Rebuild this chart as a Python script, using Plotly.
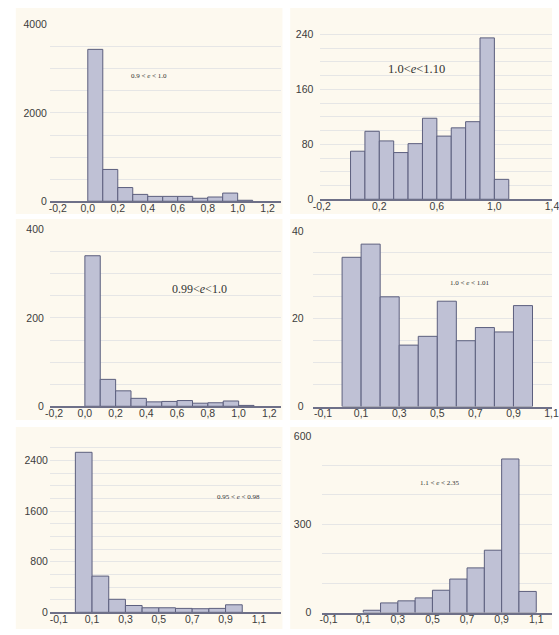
import plotly.graph_objects as go

W, H = 559, 635

# ---- histogram data (bin centres, counts) for six eccentricity ranges ----
p1_bins = [0.05, 0.15, 0.25, 0.35, 0.45, 0.55, 0.65, 0.75, 0.85, 0.95, 1.05]
p1_counts = [3440, 720, 310, 155, 110, 110, 110, 67, 96, 185, 22]

p2_bins = [0.05, 0.15, 0.25, 0.35, 0.45, 0.55, 0.65, 0.75, 0.85, 0.95, 1.05]
p2_counts = [70, 99, 85, 68, 81, 118, 92, 104, 113, 235, 29]

p3_bins = [0.05, 0.15, 0.25, 0.35, 0.45, 0.55, 0.65, 0.75, 0.85, 0.95, 1.05]
p3_counts = [341, 61, 35, 18, 10, 11, 13, 7, 8, 12, 2]

p4_bins = [0.05, 0.15, 0.25, 0.35, 0.45, 0.55, 0.65, 0.75, 0.85, 0.95]
p4_counts = [34, 37, 25, 14, 16, 24, 15, 18, 17, 23]

p5_bins = [0.05, 0.15, 0.25, 0.35, 0.45, 0.55, 0.65, 0.75, 0.85, 0.95]
p5_counts = [2530, 573, 206, 108, 72, 72, 62, 57, 62, 119]

p6_bins = [0.15, 0.25, 0.35, 0.45, 0.55, 0.65, 0.75, 0.85, 0.95, 1.05]
p6_counts = [8, 33, 40, 50, 76, 114, 152, 212, 522, 72]

bin_width = 0.1

# ---- axis ticks ----
x_ticks_a = [-0.2, 0.0, 0.2, 0.4, 0.6, 0.8, 1.0, 1.2]
x_text_a = ["-0,2", "0,0", "0,2", "0,4", "0,6", "0,8", "1,0", "1,2"]
x_ticks_b = [-0.2, 0.2, 0.6, 1.0, 1.4]
x_text_b = ["-0,2", "0,2", "0,6", "1,0", "1,4"]
x_ticks_c = [-0.1, 0.1, 0.3, 0.5, 0.7, 0.9, 1.1]
x_text_c = ["-0,1", "0,1", "0,3", "0,5", "0,7", "0,9", "1,1"]

y_ticks = [
    [0, 2000, 4000],
    [0, 80, 160, 240],
    [0, 200, 400],
    [0, 20, 40],
    [0, 800, 1600, 2400],
    [0, 300, 600],
]
y_grid_step = [500, 20, 50, 5, 200, 100]

labels = [
    "0.9 &lt; <i>e</i> &lt; 1.0",
    "1.0&lt;<i>e</i>&lt;1.10",
    "0.99&lt;<i>e</i>&lt;1.0",
    "1.0 &lt; <i>e</i> &lt; 1.01",
    "0.95 &lt; <i>e</i> &lt; 0.98",
    "1.1 &lt; <i>e</i> &lt; 2.35",
]

# ---- panel geometry in pixels ----
# plot left/right, plot top/bottom, x range, y range, y-label gap
panels = [
    dict(px=(43, 281), py=(19, 199), xr=(-0.2532, 1.2922), yr=(0, 4000), gap=2,
         xt=(x_ticks_a, x_text_a), data=(p1_bins, p1_counts)),
    dict(px=(321, 559), py=(15, 197), xr=(-0.2096, 1.4005), yr=(0, 260), gap=6,
         xt=(x_ticks_b, x_text_b), data=(p2_bins, p2_counts)),
    dict(px=(43, 281), py=(228, 408), xr=(-0.2278, 1.2785), yr=(0, 400), gap=5,
         xt=(x_ticks_a, x_text_a), data=(p3_bins, p3_counts)),
    dict(px=(313, 559), py=(229.3, 408.3), xr=(-0.1548, 1.1024), yr=(0, 40), gap=8,
         xt=(x_ticks_c, x_text_c), data=(p4_bins, p4_counts)),
    dict(px=(43, 281), py=(437.5, 618), xr=(-0.1529, 1.235), yr=(0, 2800), gap=1,
         xt=(x_ticks_c, x_text_c), data=(p5_bins, p5_counts)),
    dict(px=(323, 559), py=(438.3, 618.3), xr=(-0.1365, 1.191), yr=(0, 600), gap=10,
         xt=(x_ticks_c, x_text_c), data=(p6_bins, p6_counts)),
]
label_pos = [(145, 71, 7), (420, 64, 12.5), (197, 288, 12), (475, 282, 7),
             (237, 500, 7), (444, 486, 7)]
cream_boxes = [(8, 282, 2, 212), (290, 559, 2, 212), (8, 282, 217, 422),
               (290, 559, 217, 422), (8, 282, 429, 635), (290, 559, 429, 635)]

CREAM = "#FDF9EF"
BAR_FILL = "#BFC1D5"
BAR_LINE = "#5C5F7E"
GRID = "#E6E6E6"
TICK_FONT = dict(family="Liberation Sans, Arial, sans-serif", size=10.5, color="#3c3c3c")

fig = go.Figure()
layout = dict(
    width=W, height=H, autosize=False,
    margin=dict(l=0, r=0, t=0, b=0),
    paper_bgcolor="white", plot_bgcolor="white",
    showlegend=False, shapes=[], annotations=[],
)

for i, p in enumerate(panels):
    k = "" if i == 0 else str(i + 1)
    bins, counts = p["data"]
    fig.add_trace(go.Bar(
        x=bins, y=counts, width=bin_width,
        marker=dict(color=BAR_FILL, line=dict(color=BAR_LINE, width=1)),
        xaxis="x" + k, yaxis="y" + k, hoverinfo="skip",
    ))
    x0, x1 = p["px"]
    y0, y1 = p["py"]
    layout["xaxis" + k] = dict(
        domain=[x0 / W, x1 / W], range=list(p["xr"]), anchor="y" + k,
        tickvals=p["xt"][0], ticktext=p["xt"][1], tickfont=TICK_FONT,
        showgrid=False, zeroline=False, showline=True,
        linecolor="#6E7088", linewidth=1.5, ticks="", ticklabelstandoff=-4,
        ticklabeloverflow="allow", fixedrange=True,
    )
    layout["yaxis" + k] = dict(
        domain=[1 - y1 / H, 1 - y0 / H], range=list(p["yr"]), anchor="x" + k,
        tickvals=y_ticks[i], tickfont=TICK_FONT,
        showgrid=True, gridcolor=GRID, gridwidth=1,
        minor=dict(dtick=y_grid_step[i], showgrid=True, gridcolor=GRID, gridwidth=1),
        zeroline=False, showline=False, ticks="", fixedrange=True,
        ticklabelstandoff=p["gap"],
    )
    bx0, bx1, by0, by1 = cream_boxes[i]
    layout["shapes"].append(dict(
        type="rect", xref="paper", yref="paper", layer="below",
        x0=bx0 / W, x1=bx1 / W, y0=1 - by1 / H, y1=1 - by0 / H,
        fillcolor=CREAM, line=dict(width=0),
    ))
    lx, ly, ls = label_pos[i]
    layout["annotations"].append(dict(
        x=lx / W, y=1 - ly / H, xref="paper", yref="paper",
        text=labels[i], showarrow=False, xanchor="center", yanchor="middle",
        font=dict(family="Liberation Serif, Times New Roman, serif", size=ls, color="#333333"),
    ))

fig.update_layout(**layout)
fig.write_html("out.html")
